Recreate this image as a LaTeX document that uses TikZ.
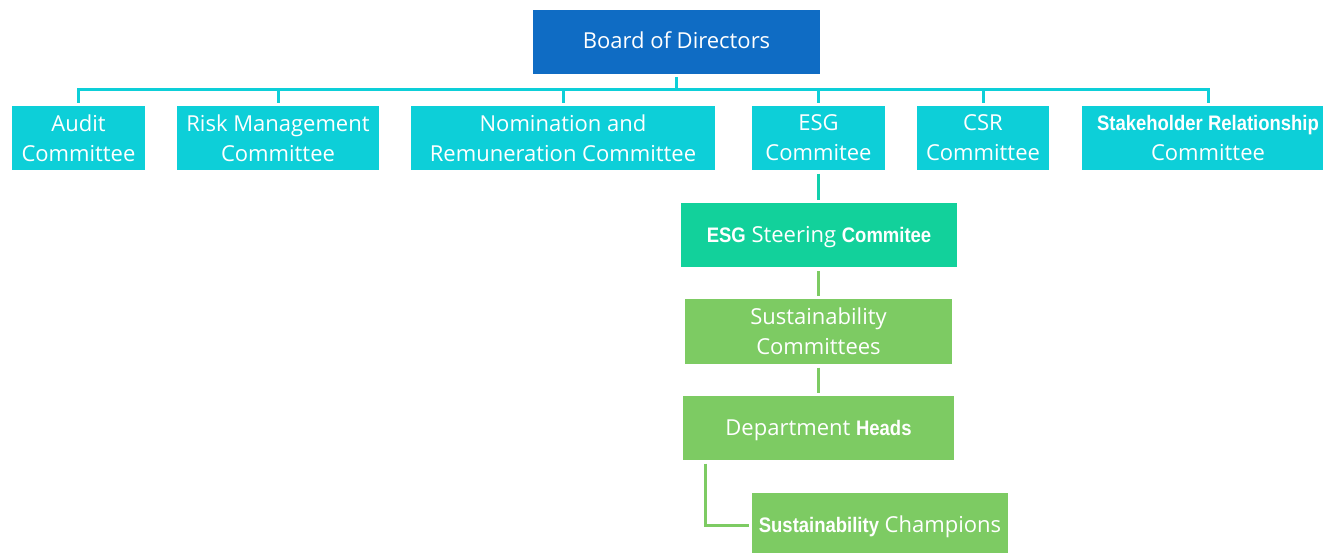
\documentclass[tikz,border=0pt]{standalone}
\usepackage{fontspec}
\setmainfont{Open Sans}
\newfontfamily\arialfont{Liberation Sans}[FakeStretch=0.88]
\usepackage{tikz}
\usetikzlibrary{calc}

\definecolor{boardblue}{HTML}{0F6CC4}
\definecolor{comcyan}{HTML}{0DCFD8}
\definecolor{steergreen}{HTML}{12D19B}
\definecolor{leafgreen}{HTML}{7DCB63}

\newcommand{\bsans}[1]{{\arialfont\bfseries\fontsize{21}{30}\selectfont #1}}

\tikzset{
  orgbox/.style={text=white, inner sep=0pt, outer sep=3.5pt, align=center,
    minimum height=64pt, font=\fontsize{22}{30}\selectfont},
  oneline/.style={text height=18pt, text depth=4pt},
  boardbox/.style={orgbox, oneline, fill=boardblue},
  combox/.style={orgbox, fill=comcyan},
  steerbox/.style={orgbox, oneline, fill=steergreen},
  leafbox/.style={orgbox, fill=leafgreen},
  link/.style={line width=3pt}
}

\begin{document}
\begin{tikzpicture}[x=1pt,y=-1pt]%,>=latex]

\clip (0,0) rectangle (1323,552);

\node [boardbox, minimum width=287pt] (board) at (676.5,41.5) {Board of Directors};

\node [combox, minimum width=133pt] (audit) at (78.5,138) {Audit\\Committee};
\node [combox, minimum width=202pt] (risk) at (278,138) {Risk Management\\Committee};
\node [combox, minimum width=304pt] (nomination) at (563,138) {Nomination and\\Remuneration Committee};
\node [combox, minimum width=133pt] (esg) at (818.5,138) {ESG\\Commitee};
\node [combox, minimum width=132pt] (csr) at (983,138) {CSR\\Committee};
\node [combox, minimum width=252pt] (stake) at (1208,138) {\bsans{Stakeholder Relationship}\\Committee};

\node [steerbox, minimum width=276pt] (steering) at (819,235) {\bsans{ESG} Steering \bsans{Commitee}};
\node [leafbox, minimum width=267pt, minimum height=65pt] (suscom) at (818.5,331.5) {Sustainability\\Committees};
\node [leafbox, oneline, minimum width=271pt] (dept) at (818.5,428) {Department \bsans{Heads}};
\node [leafbox, oneline, minimum width=256pt] (champ) at (880,525) {\bsans{Sustainability} Champions};

\draw [link, comcyan] (board.south) -- ++(0,12.5) coordinate (bus);
\draw [link, comcyan] (audit.north) |- (bus) -| (stake.north);
\foreach \n in {risk,nomination,esg,csr}
  \draw [link, comcyan] (bus -| \n.north) -- (\n.north);

\draw [link, steergreen!70!comcyan] (esg.south) -- (esg.south |- steering.north);
\draw [link, leafgreen] (suscom.north) -- (suscom.north |- steering.south);
\draw [link, leafgreen] (suscom.south) -- (suscom.south |- dept.north);
\draw [link, leafgreen] ($(dept.south west)+(26,0)$) |- (champ.west);

\end{tikzpicture}
\end{document}
